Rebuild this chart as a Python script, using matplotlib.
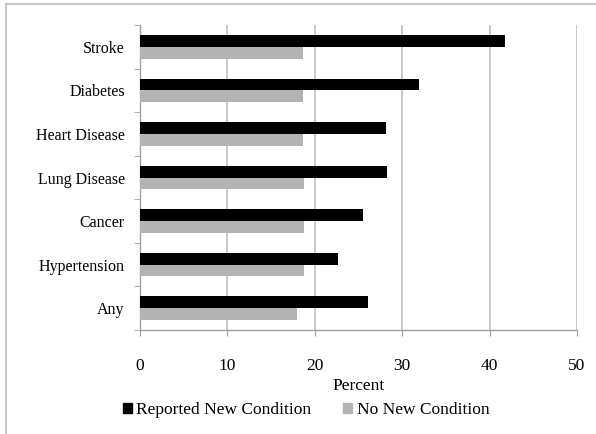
import numpy as np
import matplotlib
matplotlib.use("Agg")
import matplotlib.pyplot as plt
from matplotlib.lines import Line2D
from matplotlib.patches import Patch

plt.rcParams['font.family'] = ['Liberation Serif', 'DejaVu Serif']

# data, top to bottom as in the picture
categories = ['Stroke', 'Diabetes', 'Heart Disease', 'Lung Disease', 'Cancer', 'Hypertension', 'Any']
reported_new = [41.8, 31.9, 28.1, 28.3, 25.5, 22.6, 26.1]
no_new = [18.7, 18.7, 18.7, 18.8, 18.8, 18.8, 18.0]
xticks = [0, 10, 20, 30, 40, 50]

W, H = 596, 434
fig = plt.figure(figsize=(W / 100, H / 100), dpi=100)

# light frame around the chart (top and left visible)
fig.add_artist(Line2D([6 / W, 1], [1 - 4 / H, 1 - 4 / H], transform=fig.transFigure, color='#c8c8c8', lw=1.5))
fig.add_artist(Line2D([6 / W, 6 / W], [0, 1 - 4 / H], transform=fig.transFigure, color='#c8c8c8', lw=1.5))

ax = fig.add_axes([140 / W, (H - 330) / H, (577 - 140) / W, (330 - 25) / H])

n = len(categories)
y = np.arange(n)[::-1]  # Stroke at the top
h = 0.27
ax.barh(y + h / 2, reported_new, height=h, color='black', zorder=3)
ax.barh(y - h / 2, no_new, height=h, color='#b3b3b3', zorder=3)

ax.set_xlim(0, 50)
ax.set_ylim(-0.5, n - 0.5)
ax.set_xticks(xticks)
ax.set_xticklabels([str(t) for t in xticks], fontsize=12.5)
ax.grid(axis='x', color='#c0c0c0', lw=1.2, zorder=0)

ax.set_yticks(y)
ax.set_yticklabels(categories, fontsize=11.5)
ax.set_yticks(np.arange(n + 1) - 0.5, minor=True)
ax.tick_params(axis='y', which='major', length=0, pad=11)
ax.tick_params(axis='y', which='minor', length=4, color='#a0a0a0', direction='out')
ax.tick_params(axis='x', length=4, color='#a0a0a0', direction='out', pad=16)

for s in ['top', 'right']:
    ax.spines[s].set_visible(False)
for s in ['left', 'bottom']:
    ax.spines[s].set_color('#a0a0a0')
    ax.spines[s].set_linewidth(1.0)

ax.set_xlabel('Percent', fontsize=12.5, labelpad=3)

handles = [Patch(color='black', label='Reported New Condition'),
           Patch(color='#b3b3b3', label='No New Condition')]
fig.legend(handles=handles, loc='center', bbox_to_anchor=(306 / W, 1 - 410 / H), ncol=2,
           frameon=False, fontsize=12.5, handlelength=0.55, handleheight=0.55, handletextpad=0.25,
           columnspacing=1.8)

fig.savefig('out.png', dpi=100)
